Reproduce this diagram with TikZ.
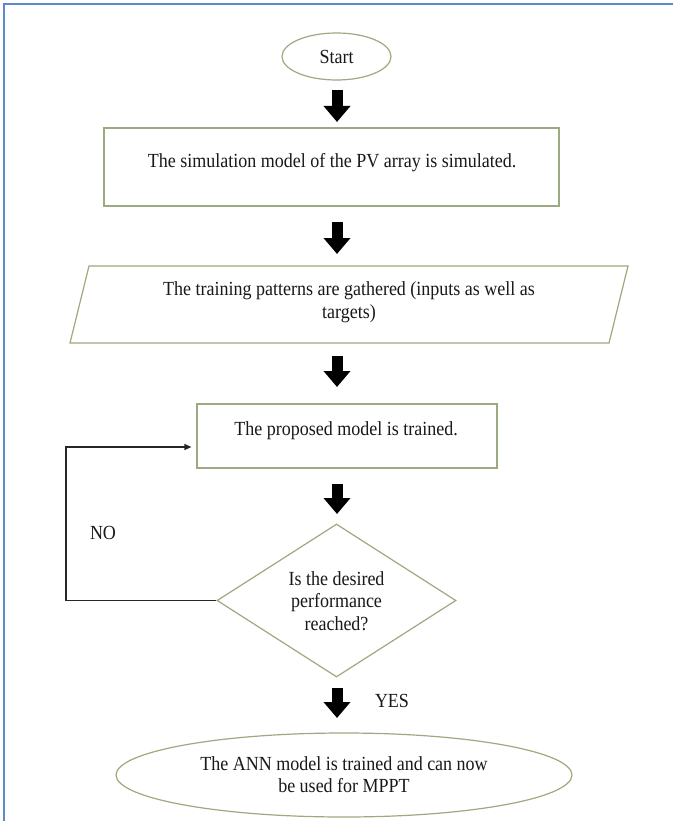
\documentclass[tikz,border=0pt]{standalone}
\usepackage{fontspec}
\setmainfont{Liberation Serif}[FakeStretch=0.9]
\usetikzlibrary{shapes.geometric,arrows.meta}
\definecolor{shpc}{RGB}{155,170,128}
\definecolor{framec}{RGB}{91,139,203}
\begin{document}
\begin{tikzpicture}[x=1pt,y=-1pt,
  txt/.style={font=\fontsize{20}{22.5}\selectfont, text=black!90, align=center, inner sep=0pt},
  shp/.style={draw=shpc, line width=1.2pt},
  term/.style={shp, ellipse, inner sep=0pt},
  procbox/.style={shp, rectangle, inner sep=0pt},
  decision/.style={shp, diamond, inner sep=0pt},
  blk/.style={line width=11pt, black, -{Triangle[width=26pt,length=16pt]}},
  fb/.style={line width=1.2pt, draw=black!85, -{Triangle[width=6pt,length=7pt]}}]
\useasboundingbox (0,0) rectangle (673,821);
\fill[white] (0,0) rectangle (673,821);
\draw[framec, line width=2pt] (4,821) -- (4,4) -- (673,4);

% Start
\node[term, minimum width=109pt, minimum height=47pt] (start) at (336.5,56.5) {};
\node[txt] (starttxt) at (336.5,57) {Start};

% Box 1
\node[procbox, minimum width=455pt, minimum height=78pt] (box1) at (331.5,167) {};
\node[txt] (box1txt) at (332,163) {The simulation model of the PV array is simulated.};

% Parallelogram
\coordinate (p1) at (89,266);
\coordinate (p2) at (628,266);
\coordinate (p3) at (609,343);
\coordinate (p4) at (70,343);
\draw[shp, line join=miter] (p1) -- (p2) -- (p3) -- (p4) -- cycle;
\node[txt] (partxt) at (349,302) {The training patterns are gathered (inputs as well as\\targets)};

% Box 3
\node[procbox, minimum width=300pt, minimum height=64pt] (box3) at (347,436) {};
\node[txt] (box3txt) at (346,431) {The proposed model is trained.};

% Decision
\node[decision, minimum width=239pt, minimum height=153pt] (dec) at (336.5,600.5) {};
\node[txt] (dectxt) at (336.5,601) {Is the desired\\performance\\reached?};

% End
\node[term, minimum width=456pt, minimum height=84pt] (fin) at (344,775) {};
\node[txt] (fintxt) at (344,774.5) {The ANN model is trained and can now\\be used for MPPT};

% Block arrows
\coordinate (a1s) at (337,90);  \coordinate (a1e) at (337,122);
\coordinate (a2s) at (337,222); \coordinate (a2e) at (337,254);
\coordinate (a3s) at (337,356); \coordinate (a3e) at (337,387);
\coordinate (a4s) at (337,484); \coordinate (a4e) at (337,514);
\coordinate (a5s) at (337,688); \coordinate (a5e) at (337,718);
\draw[blk] (a1s) -- (a1e);
\draw[blk] (a2s) -- (a2e);
\draw[blk] (a3s) -- (a3e);
\draw[blk] (a4s) -- (a4e);
\draw[blk] (a5s) -- (a5e);

% Feedback loop
\coordinate (lp) at (66,447);
\draw[fb, shorten >=5pt] (dec.west) -| (lp) -- (lp -| box3.west);

% Labels
\node[txt] (no) at (103,533) {NO};
\node[txt] (yes) at (392,701) {YES};
\end{tikzpicture}
\end{document}
